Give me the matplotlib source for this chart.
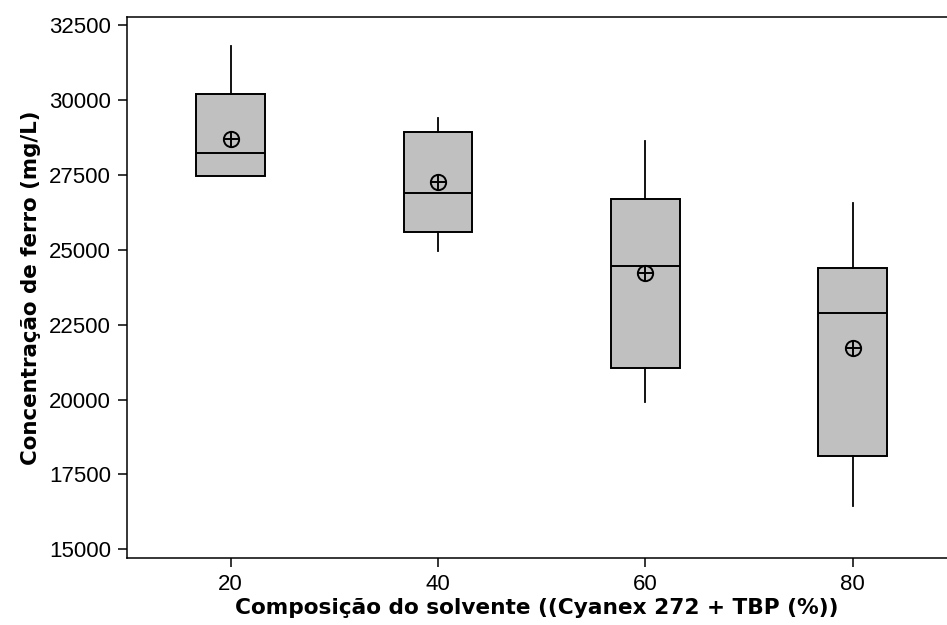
import matplotlib
matplotlib.use("Agg")
import matplotlib.pyplot as plt

# solvent composition (Cyanex 272 + TBP, %)
composicao = [20, 40, 60, 80]

# box statistics (mg/L)
whisker_low = [27470, 24960, 19930, 16460]
q1 = [27470, 25610, 21060, 18130]
mediana = [28240, 26910, 24470, 22900]
q3 = [30220, 28950, 26690, 24410]
whisker_high = [31820, 29420, 28650, 26560]
media = [28700, 27280, 24240, 21740]

y_ticks = [15000, 17500, 20000, 22500, 25000, 27500, 30000, 32500]

fig = plt.figure(figsize=(9.47, 6.25), dpi=100)
ax = fig.add_axes([0.1341, 0.1072, 0.8659, 0.8661])

stats = []
for i in range(len(composicao)):
    stats.append({
        "whislo": whisker_low[i], "q1": q1[i], "med": mediana[i],
        "q3": q3[i], "whishi": whisker_high[i], "fliers": [],
    })

ax.bxp(stats, positions=composicao, widths=6.6, showcaps=False,
       patch_artist=True,
       boxprops=dict(facecolor="#c0c0c0", edgecolor="black", linewidth=1.4),
       medianprops=dict(color="black", linewidth=1.4),
       whiskerprops=dict(color="black", linewidth=1.3))

# mean symbol: circle with crosshair
ax.plot(composicao, media, linestyle="none", marker="o", markersize=11,
        markerfacecolor="none", markeredgecolor="black", markeredgewidth=1.4)
ax.plot(composicao, media, linestyle="none", marker="+", markersize=11,
        markeredgecolor="black", markeredgewidth=1.4)

ax.set_xlim(10, 89.1)
ax.set_ylim(14710, 32790)
ax.set_xticks(composicao)
ax.set_xticklabels([str(c) for c in composicao])
ax.set_yticks(y_ticks)
ax.set_yticklabels([str(v) for v in y_ticks])

ax.spines["right"].set_visible(False)
for s in ["left", "bottom", "top"]:
    ax.spines[s].set_linewidth(1.1)

ax.tick_params(direction="out", length=6.5, width=1.1, labelsize=16, pad=5)
for lab in ax.get_xticklabels() + ax.get_yticklabels():
    lab.set_family("Liberation Sans")

ax.set_xlabel("Composição do solvente ((Cyanex 272 + TBP (%))",
              fontsize=15.6, fontweight="bold", labelpad=2)
ax.set_ylabel("Concentração de ferro (mg/L)",
              fontsize=15.4, fontweight="bold", labelpad=6)

fig.savefig("out.png", dpi=100)
